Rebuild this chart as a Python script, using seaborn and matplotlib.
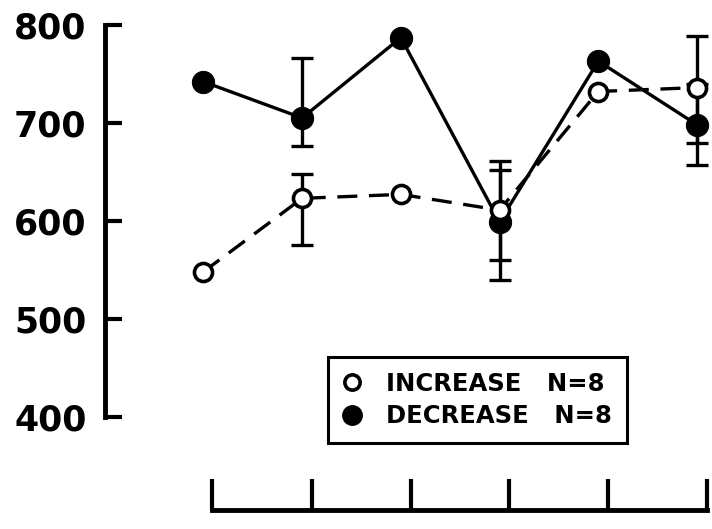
import matplotlib
matplotlib.use("Agg")
import matplotlib.pyplot as plt
import seaborn as sns
import pandas as pd
from matplotlib.lines import Line2D

# ---- data ----
positions = [0, 1, 2, 3, 4, 5]
increase = [548, 623, 627, 611, 732, 736]
decrease = [742, 705, 787, 599, 763, 698]
# error bars (index, lower, upper)
inc_err_idx = [1, 3, 5]
inc_err_lo = [575, 560, 679]
inc_err_hi = [648, 661, 789]
dec_err_idx = [1, 3, 5]
dec_err_lo = [676, 540, 657]
dec_err_hi = [766, 652, 740]
yticks = [400, 500, 600, 700, 800]
xticks = [0.09, 1.1, 2.1, 3.1, 4.1, 5.1]
legend_labels = ["INCREASE   N=8", "DECREASE   N=8"]

sns.set_style("white")
plt.rcParams['font.family'] = ['DejaVu Sans']
plt.rcParams['text.color'] = 'black'
plt.rcParams['xtick.color'] = 'black'
plt.rcParams['ytick.color'] = 'black'
plt.rcParams['axes.labelcolor'] = 'black'

fig = plt.figure(figsize=(7.12, 5.29), dpi=100)
ax = fig.add_axes([0.147, 0.036, 0.85, 0.917])

df_inc = pd.DataFrame({"x": positions, "y": increase})
df_dec = pd.DataFrame({"x": positions, "y": decrease})

# error bars
for i, lo, hi in zip(inc_err_idx, inc_err_lo, inc_err_hi):
    y = increase[i]
    ax.errorbar([i], [y], yerr=[[y - lo], [hi - y]], fmt='none', ecolor='black',
                elinewidth=2.4, capsize=8, capthick=2.4, zorder=2)
for i, lo, hi in zip(dec_err_idx, dec_err_lo, dec_err_hi):
    y = decrease[i]
    ax.errorbar([i], [y], yerr=[[y - lo], [hi - y]], fmt='none', ecolor='black',
                elinewidth=2.4, capsize=8, capthick=2.4, zorder=2)

sns.lineplot(data=df_dec, x="x", y="y", ax=ax, color='black', linewidth=2.4,
             marker='o', markersize=16, markerfacecolor='black',
             markeredgecolor='black', zorder=3)
sns.lineplot(data=df_inc, x="x", y="y", ax=ax, color='black', linewidth=2.4,
             linestyle=(0, (6, 3.5)), marker='o', markersize=13,
             markerfacecolor='white', markeredgecolor='black',
             markeredgewidth=2.6, zorder=4)

ax.set_xlim(-1.0, 5.13)
ax.set_ylim(305, 800)
ax.set_xlabel("")
ax.set_ylabel("")

for s in ['top', 'right']:
    ax.spines[s].set_visible(False)
ax.spines['left'].set_bounds(400, 800)
ax.spines['left'].set_linewidth(3.5)
ax.spines['left'].set_color('black')
ax.spines['bottom'].set_bounds(xticks[0], xticks[-1])
ax.spines['bottom'].set_linewidth(3.5)
ax.spines['bottom'].set_color('black')

ax.set_yticks(yticks)
ax.set_yticklabels([str(v) for v in yticks], fontsize=25, fontweight='bold',
                   color='black')
ax.set_xticks(xticks)
ax.set_xticklabels([])
ax.tick_params(axis='y', direction='in', length=12, width=3, pad=13, left=True)
ax.tick_params(axis='x', direction='in', length=22, width=3, bottom=True)

handles = [
    Line2D([], [], linestyle='none', marker='o', markersize=11,
           markerfacecolor='white', markeredgecolor='black', markeredgewidth=2.6),
    Line2D([], [], linestyle='none', marker='o', markersize=14,
           markerfacecolor='black', markeredgecolor='black'),
]
leg = ax.legend(handles, legend_labels, loc='upper left',
                bbox_to_anchor=(0.369, 0.315), borderaxespad=0,
                frameon=True, fancybox=False, framealpha=1,
                edgecolor='black', handlelength=0.8, handletextpad=1.0,
                borderpad=0.6, labelspacing=0.35,
                prop={'size': 17.5, 'weight': 'bold'})
leg.get_frame().set_linewidth(2.2)
for t in leg.get_texts():
    t.set_color('black')

fig.savefig("out.png", dpi=100, facecolor='white')
